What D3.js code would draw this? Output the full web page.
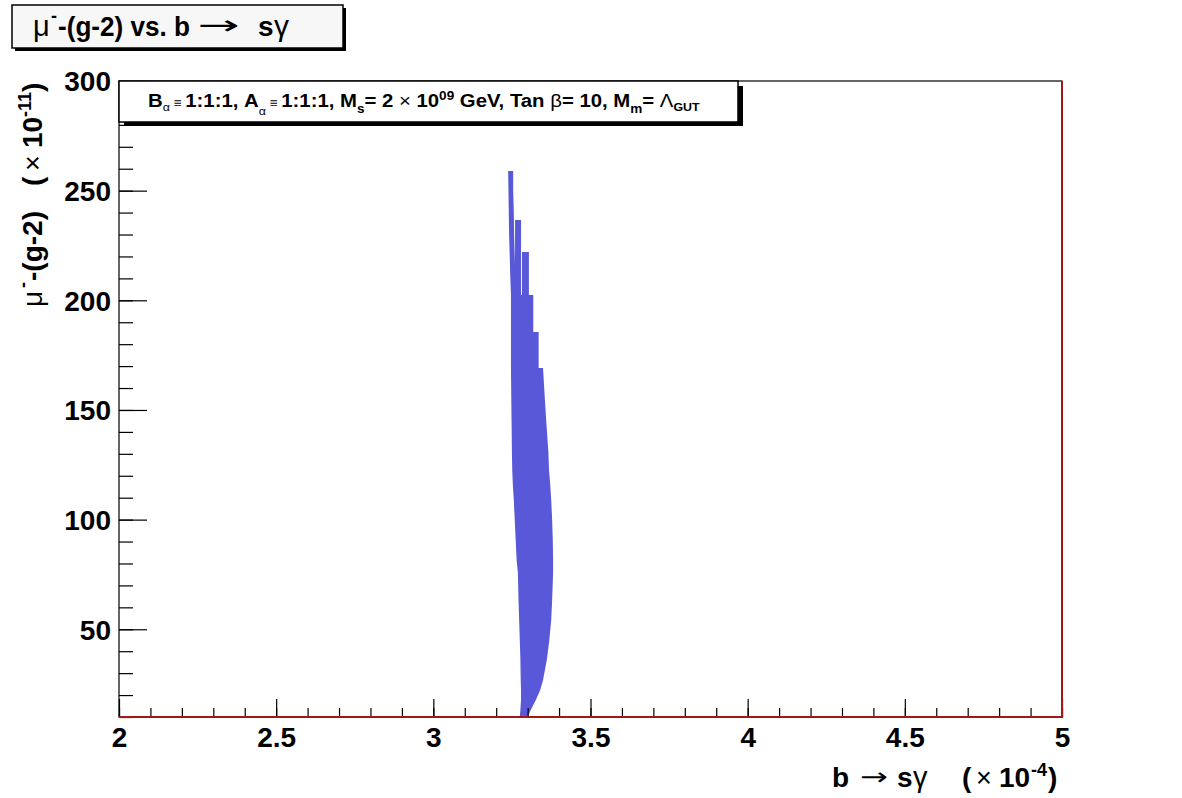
<!DOCTYPE html>
<html><head><meta charset="utf-8">
<script src="https://cdn.jsdelivr.net/npm/d3@7"></script>
<style>body{margin:0;background:#fff}</style>
</head><body><svg id="c" width="1182" height="798"></svg>
<script>
// ---------- data ----------
const xDomain = [2, 5];
const yDomain = [10, 300];
const xMajorTicks = [2, 2.5, 3, 3.5, 4, 4.5, 5];
const xTickLabels = ["2", "2.5", "3", "3.5", "4", "4.5", "5"];
const xMinorTicks = d3.range(20, 51).map(v => v / 10);
const yMajorTicks = [50, 100, 150, 200, 250, 300];
const yTickLabels = ["50", "100", "150", "200", "250", "300"];
const yMinorTicks = d3.range(10, 301, 10);
// scatter region: [mu(g-2), bsgamma left, bsgamma right]
const strandA = [[259.0,3.238,3.254],[250.0,3.239,3.254],[240.0,3.240,3.256],[230.0,3.241,3.257],[220.0,3.243,3.259],[210.0,3.245,3.261],[202.4,3.247,3.263]];
const strandB = [[236.6,3.260,3.279],[222.0,3.260,3.279],[213.8,3.259,3.279],[202.4,3.258,3.279]];
const leftColumn = [[202.4,3.247,3.283],[185.5,3.247,3.283],[169.1,3.247,3.283],[154.5,3.248,3.283],[143.1,3.249,3.283],[130.8,3.250,3.283],[122.6,3.251,3.283]];
const rightColumn = [[222.0,3.282,3.304],[202.4,3.282,3.304],[202.4,3.282,3.318],[185.5,3.282,3.318],[185.5,3.282,3.335],[169.1,3.282,3.335],[169.1,3.282,3.349],[154.5,3.282,3.355],[143.1,3.282,3.360],[130.8,3.282,3.366],[122.6,3.282,3.368]];
const mainBody = [[122.6,3.251,3.368],[115.8,3.253,3.372],[108.9,3.256,3.375],[99.8,3.259,3.378],[90.7,3.262,3.380],[81.6,3.265,3.381],[75.7,3.269,3.381],[63.3,3.271,3.378],[54.2,3.273,3.375],[45.1,3.275,3.369],[36.0,3.277,3.361],[26.9,3.278,3.349],[22.3,3.279,3.340],[17.8,3.279,3.326],[13.2,3.277,3.310],[10.0,3.275,3.300]];
const scatterParts = [strandA, strandB, leftColumn, rightColumn, mainBody];

// ---------- layout ----------
const svg = d3.select("#c");
const F = {l:119, r:1062, t:81, b:717};
const x = d3.scaleLinear().domain(xDomain).range([F.l, F.r]);
const y = d3.scaleLinear().domain(yDomain).range([F.b, F.t]);
const SANS = "'Liberation Sans', Arial, Helvetica, sans-serif";
const NARROW = "'Liberation Sans Narrow', 'Liberation Sans', Arial, sans-serif";
const ARROWF = "'DejaVu Sans', sans-serif";

svg.append("rect").attr("width",1182).attr("height",798).attr("fill","#fff");

// rich text helper (flowing tspans)
function rich(t, segs, base) {
  let cur = 0;
  segs.forEach(([s, o]) => {
    o = o || {};
    const off = -(o.sh || 0);
    const ts = t.append("tspan").text(s)
      .attr("font-weight", o.n ? "normal" : "bold")
      .attr("font-size", o.fs || base)
      .attr("dy", off - cur);
    if (o.dx) ts.attr("dx", o.dx);
    cur = off;
  });
  return t;
}
// placed text pieces: [text, x, y, {n, fs, w, f}] ; w = stretch glyphs to this width
function pieces(g, list) {
  list.forEach(([s, px, py, o]) => {
    const t = g.append("text").text(s).attr("x", 0).attr("y", 0)
      .attr("font-family", o.f || SANS).attr("fill", "#000")
      .attr("font-weight", o.n ? "normal" : "bold").attr("font-size", o.fs);
    let sx = 1;
    if (o.w) { const bb = t.node().getBBox(); sx = o.w / bb.width; }
    t.attr("transform", `translate(${px},${py}) scale(${sx},1)`);
  });
}

// clip
svg.append("clipPath").attr("id","fr").append("rect")
  .attr("x",F.l).attr("y",F.t).attr("width",F.r-F.l).attr("height",F.b-F.t);

// scatter region
const area = d3.area().y(d => y(d[0])).x0(d => x(d[1])).x1(d => x(d[2]));
svg.append("g").attr("clip-path","url(#fr)").selectAll("path").data(scatterParts).join("path")
  .attr("d", area).attr("fill", "#5858d8");

// frame
svg.append("rect").attr("x",F.l).attr("y",F.t).attr("width",F.r-F.l).attr("height",F.b-F.t)
  .attr("fill","none").attr("stroke","#000").attr("stroke-width",1.2);

// axes
const gxMin = svg.append("g").attr("transform",`translate(0,${F.b})`)
  .call(d3.axisBottom(x).tickValues(xMinorTicks).tickSizeInner(-9).tickSizeOuter(0).tickFormat(""));
const gx = svg.append("g").attr("transform",`translate(0,${F.b})`)
  .call(d3.axisBottom(x).tickValues(xMajorTicks).tickSizeInner(-18).tickSizeOuter(0).tickPadding(11)
    .tickFormat((d,i) => xTickLabels[i]));
const gyMin = svg.append("g").attr("transform",`translate(${F.l},0)`)
  .call(d3.axisLeft(y).tickValues(yMinorTicks).tickSizeInner(-14).tickSizeOuter(0).tickFormat(""));
const gy = svg.append("g").attr("transform",`translate(${F.l},0)`)
  .call(d3.axisLeft(y).tickValues(yMajorTicks).tickSizeInner(-28).tickSizeOuter(0).tickPadding(8)
    .tickFormat((d,i) => yTickLabels[i]));
[gxMin, gx, gyMin, gy].forEach(g => {
  g.select(".domain").remove();
  g.selectAll(".tick line").attr("stroke","#000").attr("stroke-width",1.2);
  g.selectAll("text").attr("font-family",SANS).attr("font-weight","bold").attr("font-size",28).attr("fill","#000");
});
gx.selectAll("text").attr("dy", null).attr("y", 30);
gy.selectAll("text").attr("dy", "0.35em");

// red line along bottom and right
svg.append("path").attr("d",`M${F.l},${F.b}H${F.r}V${F.t}`).attr("fill","none")
  .attr("stroke","#a01818").attr("stroke-width",2);

// title box
svg.append("rect").attr("x",15).attr("y",8).attr("width",331).attr("height",43).attr("fill","#000");
svg.append("rect").attr("x",12).attr("y",5).attr("width",331).attr("height",43)
  .attr("fill","#f7f7f7").attr("stroke","#000").attr("stroke-width",1.5);
pieces(svg, [
  ["μ", 33, 36, {n:1, fs:29}],
  ["-", 51, 22, {fs:18}],
  ["-(g-2) vs. b", 58, 36, {fs:28, w:132}],
  ["→", 198, 34, {n:1, fs:26, w:42, f:ARROWF}],
  ["s", 258, 36, {fs:28}],
  ["γ", 274, 36, {n:1, fs:30}]
]);

// legend box
svg.append("rect").attr("x",124).attr("y",86).attr("width",619).attr("height",40).attr("fill","#000");
svg.append("rect").attr("x",119).attr("y",81).attr("width",619).attr("height",41)
  .attr("fill","#fff").attr("stroke","#000").attr("stroke-width",1.5);
const leg = rich(svg.append("text").attr("x",148).attr("y",107).attr("font-family",NARROW).attr("fill","#000"),
  [["B",{}],["α",{n:1,sh:-4,fs:11}],[" ≡ ",{n:1,fs:12}],["1:1:1, A",{}],["α",{n:1,sh:-8,fs:11}],[" ≡ ",{n:1,fs:12}],
   ["1:1:1, M",{}],["s",{sh:-6,fs:12}],["= 2 ",{}],["×",{n:1}],[" 10",{}],["09",{sh:7,fs:12}],
   [" GeV, Tan ",{}],["β",{n:1}],["= 10, M",{}],["m",{sh:-6,fs:12}],["= ",{}],["Λ",{n:1}],["GUT",{sh:-4,fs:11}]], 18);
const lw = leg.node().getComputedTextLength();
leg.attr("transform",`translate(148,0) scale(${552/lw},1) translate(-148,0)`);

// y-axis title (rotated, reads bottom to top)
const yt = svg.append("g").attr("transform","translate(42,307) rotate(-90)");
pieces(yt, [
  ["μ", 0, 0, {n:1, fs:28}],
  ["-", 19, -13, {fs:18}],
  ["-(g-2)", 26, 0, {fs:28}],
  ["(", 121, 0, {fs:28}],
  ["×", 136, 0, {n:1, fs:27}],
  ["10", 159, 0, {fs:28}],
  ["-11", 190, -11, {fs:18}],
  [")", 215, 0, {fs:28}]
]);

// x-axis title
pieces(svg, [
  ["b", 832, 787, {fs:28}],
  ["→", 860, 785, {n:1, fs:24, w:28, f:ARROWF}],
  ["s", 897, 787, {fs:28}],
  ["γ", 913, 787, {n:1, fs:29}],
  ["(", 962, 787, {fs:28}],
  ["×", 976, 787, {n:1, fs:27}],
  ["10", 999, 787, {fs:28}],
  ["-4", 1031, 776, {fs:18}],
  [")", 1048, 787, {fs:28}]
]);
</script></body></html>
